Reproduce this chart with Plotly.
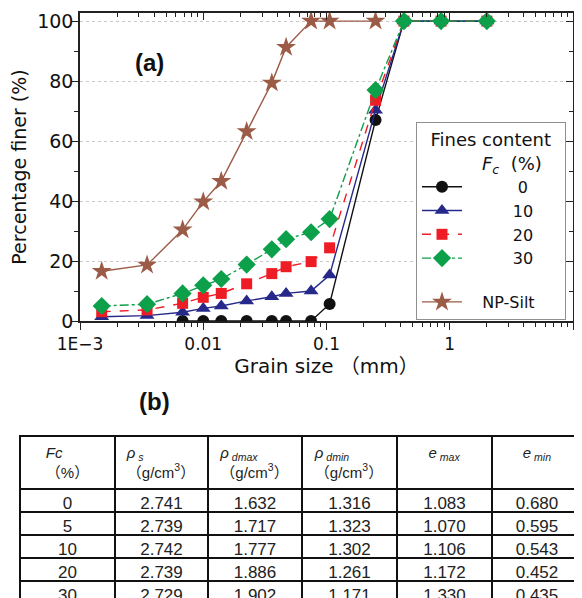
import plotly.graph_objects as go

# ---------------- data ----------------
sizes = [0.0015, 0.0035, 0.0068, 0.010, 0.014, 0.0225, 0.036, 0.047, 0.075, 0.106, 0.25, 0.425, 0.85, 2.0]
fc0_x = [0.0068, 0.010, 0.014, 0.0225, 0.036, 0.047, 0.075, 0.106, 0.25, 0.425, 0.85, 2.0]
fc0_y = [0, 0, 0, 0, 0, 0, 0, 5.7, 67, 100, 100, 100]
fc10_y = [1.4, 1.8, 2.9, 4.2, 5.0, 6.7, 8.1, 9.2, 10.0, 15.3, 70.3, 100, 100, 100]
fc20_y = [3.1, 3.7, 5.9, 7.9, 9.2, 12.4, 15.8, 18.1, 19.8, 24.4, 73.6, 100, 100, 100]
fc30_y = [5.0, 5.6, 9.2, 11.9, 14.0, 18.8, 23.9, 27.3, 29.6, 34.0, 77.0, 100, 100, 100]
silt_x = [0.0015, 0.0035, 0.0068, 0.010, 0.014, 0.0225, 0.036, 0.047, 0.075, 0.106, 0.25]
silt_y = [16.6, 18.7, 30.4, 39.8, 46.6, 63.2, 79.4, 91.3, 100, 100, 100]

x_tickvals = [0.001, 0.01, 0.1, 1, 10]
x_ticktext = ["1E\u22123", "0.01", "0.1", "1", "10"]
y_tickvals = [0, 20, 40, 60, 80, 100]

tbl_header = ["<i>Fc</i><br>（%）",
              "<i>ρ</i><sub><i> s</i></sub><br>（g/cm<sup>3</sup>）",
              "<i>ρ</i><sub><i> dmax</i></sub><br>（g/cm<sup>3</sup>）",
              "<i>ρ</i><sub><i> dmin</i></sub><br>（g/cm<sup>3</sup>）",
              "<i>e</i><sub><i> max</i></sub>",
              "<i>e</i><sub><i> min</i></sub>"]
tbl_fc = ["0", "5", "10", "20", "30"]
tbl_rho_s = ["2.741", "2.739", "2.742", "2.739", "2.729"]
tbl_rho_dmax = ["1.632", "1.717", "1.777", "1.886", "1.902"]
tbl_rho_dmin = ["1.316", "1.323", "1.302", "1.261", "1.171"]
tbl_emax = ["1.083", "1.070", "1.106", "1.172", "1.330"]
tbl_emin = ["0.680", "0.595", "0.543", "0.452", "0.435"]

# ---------------- figure ----------------
# the page body has an 8px margin, so the figure is 8px smaller and offset
OFF = 8
W, H = 582 - OFF, 598 - OFF
FONT = "DejaVu Sans, Noto Sans CJK JP, sans-serif"
TFONT = "Liberation Sans, Noto Sans CJK JP, sans-serif"

def px(p):   # page x -> paper fraction
    return (p - OFF) / W

def py(p):   # page y -> paper fraction
    return 1 - (p - OFF) / H

fig = go.Figure()

def add(x, y, name, color, symbol, size, dash, group):
    fig.add_trace(go.Scatter(
        x=x, y=y, name=name, mode="lines+markers",
        line=dict(color=color, width=1.4, dash=dash),
        marker=dict(symbol=symbol, size=size, color=color),
        legendgroup=group,
    ))

add(fc0_x, fc0_y, "          0", "#111111", "circle", 12, "solid", "a")
add(sizes, fc10_y, "         10", "#26288a", "triangle-up", 13, "solid", "a")
add(sizes, fc20_y, "         20", "#ee1c25", "square", 11, "dash", "a")
add(sizes, fc30_y, "         30", "#0da04a", "diamond", 14, "dashdot", "a")
add(silt_x, silt_y, "   NP-Silt", "#9b5b46", "star", 15, "solid", "b")

# empty trace to carry the mirrored (top/right) axes
fig.add_trace(go.Scatter(x=[], y=[], xaxis="x2", yaxis="y2", showlegend=False,
                         hoverinfo="skip"))

x_minor = [m * 10 ** e for e in range(-3, 1) for m in range(2, 10)]

xdom = [px(80), px(573)]
ydom = [py(321), py(13)]
xr = [-3, 1]
yr = [0, 102.7]

fig.update_layout(
    width=W, height=H,
    margin=dict(l=0, r=0, t=0, b=0, autoexpand=False),
    paper_bgcolor="white", plot_bgcolor="white",
    font=dict(family=FONT, size=17, color="#111111"),
    xaxis=dict(
        type="log", range=xr, domain=xdom, automargin=False,
        tickvals=x_tickvals, ticktext=x_ticktext,
        ticks="outside", ticklen=7, tickwidth=1.2, tickcolor="#222",
        minor=dict(tickvals=x_minor, ticks="outside", ticklen=4, tickcolor="#222", showgrid=False),
        showline=True, linecolor="#222", linewidth=1.5, mirror=True,
        showgrid=False, zeroline=False,
        title=dict(text="Grain size （mm）", font=dict(size=20), standoff=4),
        tickfont=dict(size=17),
    ),
    yaxis=dict(
        range=yr, domain=ydom, automargin=False,
        tickvals=y_tickvals,
        ticks="outside", ticklen=7, tickwidth=1.2, tickcolor="#222",
        minor=dict(dtick=10, ticks="outside", ticklen=4, tickcolor="#222", showgrid=False),
        showline=True, linecolor="#222", linewidth=1.5, mirror=True,
        showgrid=True, gridcolor="#c8c8c8", griddash="dot", gridwidth=1,
        zeroline=False, ticklabelstandoff=-6,
        title=dict(text="Percentage finer (%)", font=dict(size=19), standoff=6),
        tickfont=dict(size=19),
    ),
    xaxis2=dict(
        type="log", range=xr, domain=xdom, overlaying="x", side="top", anchor="y2",
        automargin=False,
        tickvals=x_tickvals, showticklabels=False,
        ticks="inside", ticklen=7, tickcolor="#222",
        minor=dict(tickvals=x_minor, ticks="inside", ticklen=4, tickcolor="#222", showgrid=False),
        showline=False, showgrid=False, zeroline=False,
    ),
    yaxis2=dict(
        range=yr, domain=ydom, overlaying="y", side="right", anchor="x2",
        automargin=False,
        tickvals=y_tickvals, showticklabels=False,
        ticks="inside", ticklen=7, tickcolor="#222",
        minor=dict(dtick=10, ticks="inside", ticklen=4, tickcolor="#222", showgrid=False),
        showline=False, showgrid=False, zeroline=False,
    ),
    legend=dict(
        x=px(416), y=py(122), xanchor="left", yanchor="top",
        bgcolor="white", bordercolor="#909090", borderwidth=1,
        font=dict(size=16), traceorder="grouped", tracegroupgap=20,
        title=dict(text="  Fines content  <br>           <i>F</i><sub><i>c</i></sub>  (%)",
                   font=dict(size=18), side="top"),
        itemwidth=40,
    ),
    annotations=[
        dict(text="<b>(a)</b>", x=px(133), y=py(47), xref="paper", yref="paper",
             showarrow=False, font=dict(family=TFONT, size=24)),
        dict(text="<b>(b)</b>", x=px(137), y=py(417), xref="paper", yref="paper",
             showarrow=False, font=dict(family=TFONT, size=24)),
    ],
)

fig.add_trace(go.Table(
    domain=dict(x=[px(20), 1.0], y=[0, py(436)]),
    columnwidth=[95, 93, 94, 95, 95, 90],
    header=dict(
        values=tbl_header,
        align="center", height=48,
        line=dict(color="#111111", width=2),
        fill=dict(color="white"),
        font=dict(family=TFONT, size=15, color="#222222"),
    ),
    cells=dict(
        values=[tbl_fc, tbl_rho_s, tbl_rho_dmax, tbl_rho_dmin, tbl_emax, tbl_emin],
        align="center", height=23,
        line=dict(color="#111111", width=2),
        fill=dict(color="white"),
        font=dict(family=TFONT, size=17, color="#222222"),
    ),
))

fig.write_html("out.html")
